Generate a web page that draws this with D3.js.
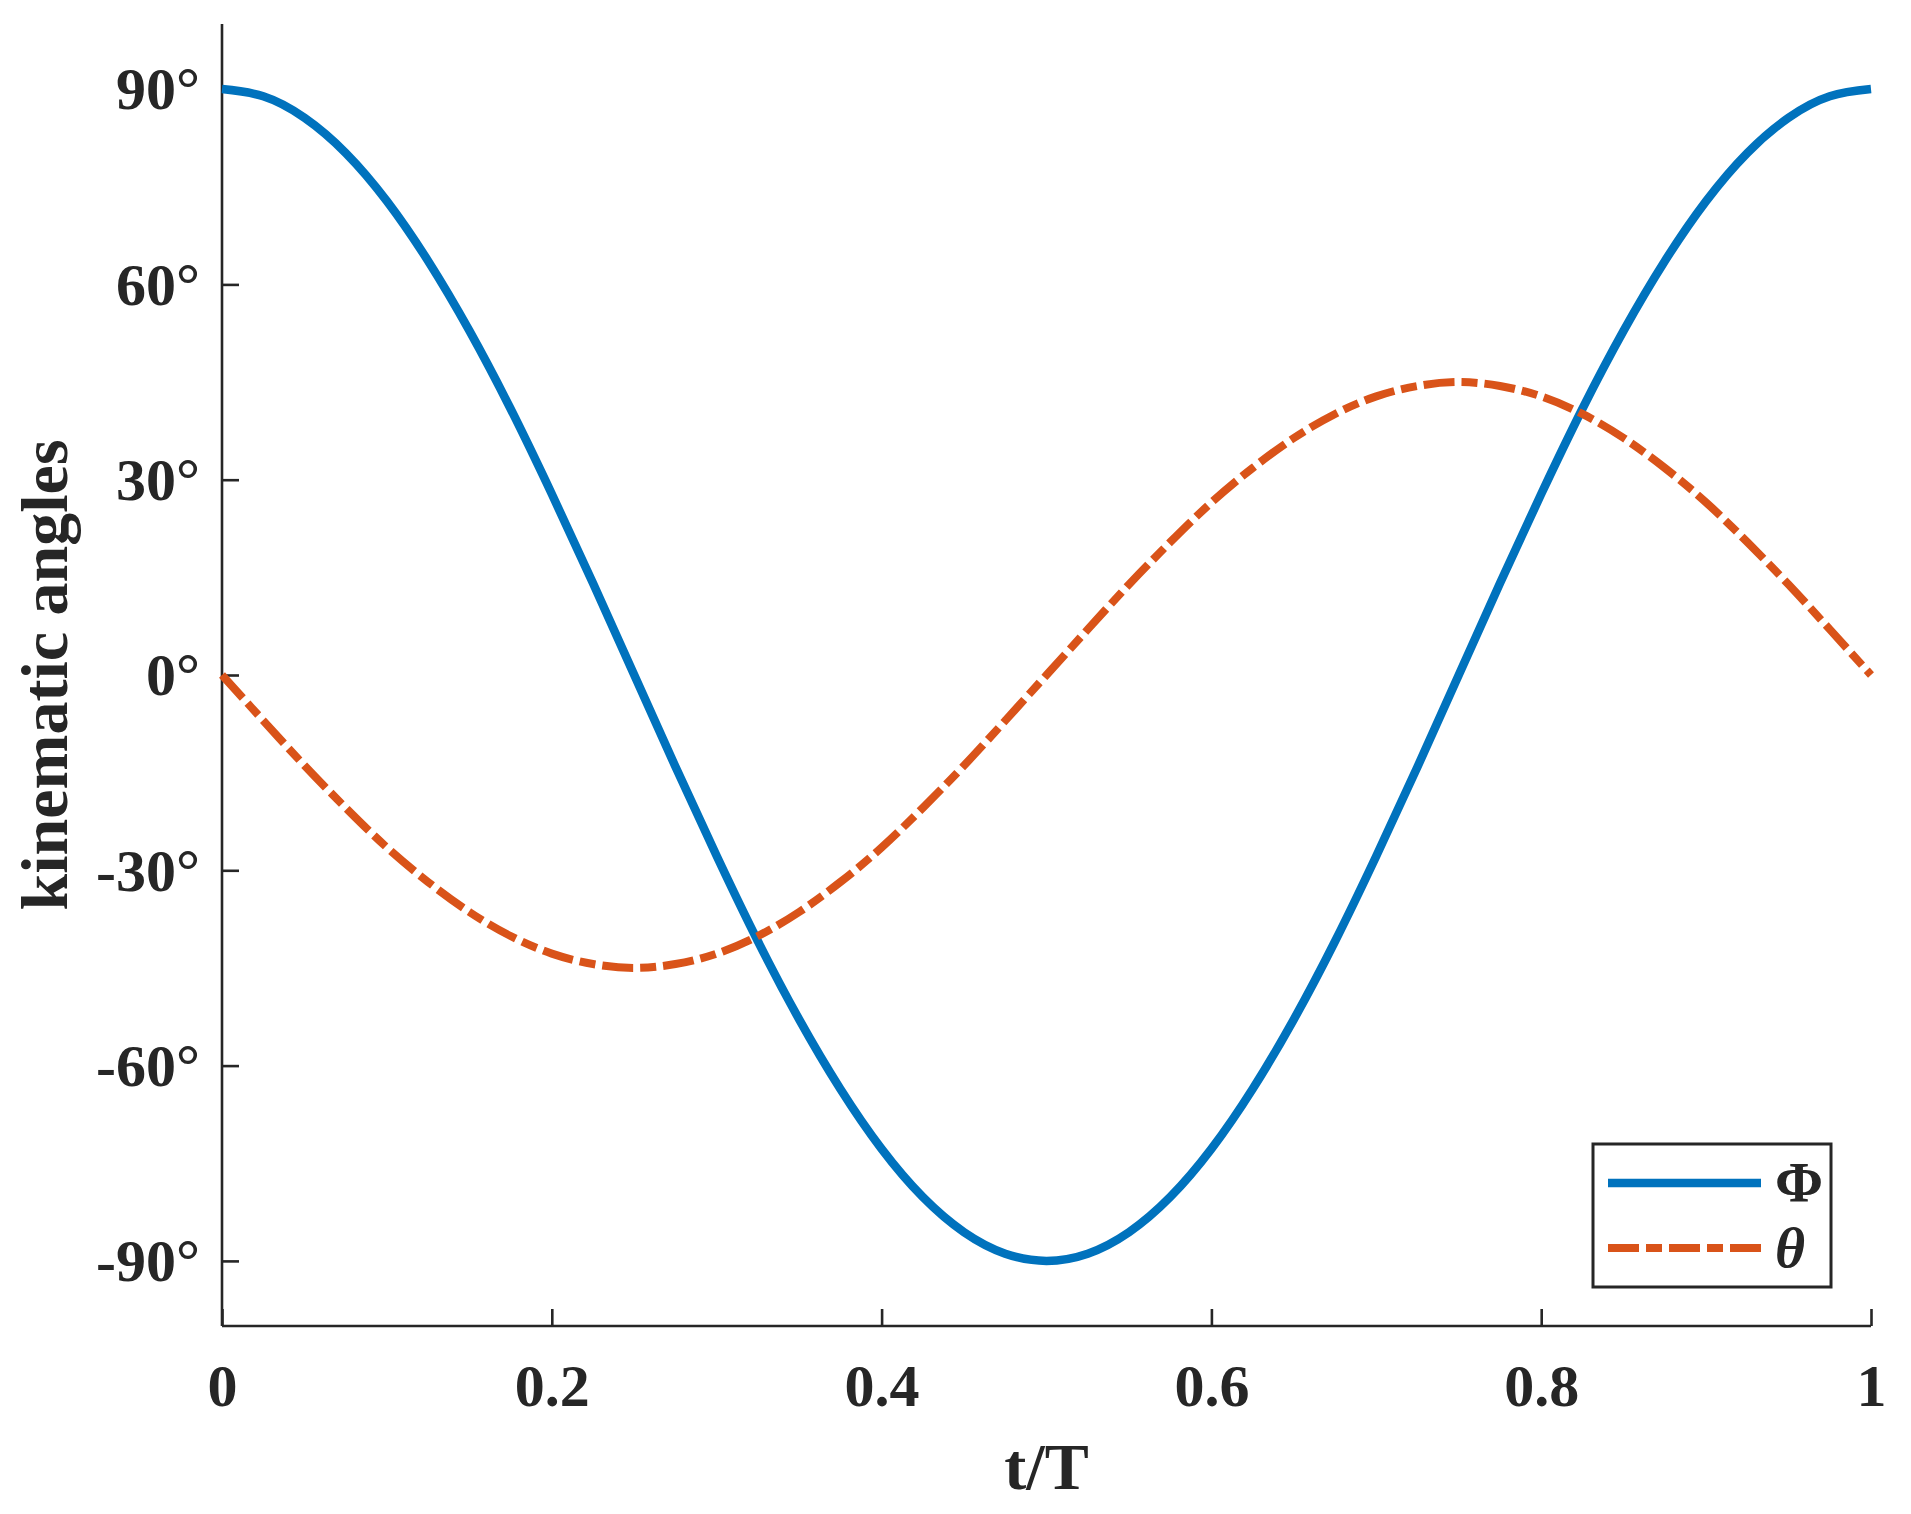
<html>
<head>
<style>
body { margin: 0; background: #fff; }
text { font-family: "Liberation Serif", "Times New Roman", serif; font-weight: bold; fill: #262626; }
.axis path, .axis line { stroke: #262626; stroke-width: 2.6; }
</style>
</head>
<body>
<div id="vis"></div>
<script src="https://cdn.jsdelivr.net/npm/d3@7"></script>
<script>
// values, t/T in steps of 0.025
var tValues = [0, 0.025, 0.05, 0.075, 0.1, 0.125, 0.15, 0.175, 0.2, 0.225,
               0.25, 0.275, 0.3, 0.325, 0.35, 0.375, 0.4, 0.425, 0.45, 0.475,
               0.5, 0.525, 0.55, 0.575, 0.6, 0.625, 0.65, 0.675, 0.7, 0.725,
               0.75, 0.775, 0.8, 0.825, 0.85, 0.875, 0.9, 0.925, 0.95, 0.975, 1];
var phiValues = [90, 88.9, 85.6, 80.2, 72.8, 63.6, 52.9, 40.9, 27.8, 14.1,
                 0, -14.1, -27.8, -40.9, -52.9, -63.6, -72.8, -80.2, -85.6, -88.9,
                 -90, -88.9, -85.6, -80.2, -72.8, -63.6, -52.9, -40.9, -27.8, -14.1,
                 0, 14.1, 27.8, 40.9, 52.9, 63.6, 72.8, 80.2, 85.6, 88.9, 90];
var thetaValues = [0, -7.0, -13.9, -20.4, -26.5, -31.8, -36.4, -40.1, -42.8, -44.4,
                   -45, -44.4, -42.8, -40.1, -36.4, -31.8, -26.5, -20.4, -13.9, -7.0,
                   0, 7.0, 13.9, 20.4, 26.5, 31.8, 36.4, 40.1, 42.8, 44.4,
                   45, 44.4, 42.8, 40.1, 36.4, 31.8, 26.5, 20.4, 13.9, 7.0, 0];
var xTicks = [0, 0.2, 0.4, 0.6, 0.8, 1];
var yTicks = [-90, -60, -30, 0, 30, 60, 90];
var seriesNames = ["\u03A6", "\u03B8"];

// set the dimensions and margins of the graph
var margin = {top: 24, right: 40, bottom: 188, left: 222},
    width = 1911 - margin.left - margin.right,
    height = 1514 - margin.top - margin.bottom;

var x = d3.scaleLinear().domain([0, 1]).range([0, width]);
var y = d3.scaleLinear().domain([-100, 100]).range([height, 0]);

var svg = d3.select("#vis").append("svg")
    .attr("width", 1911)
    .attr("height", 1514)
  .append("g")
    .attr("transform", "translate(" + margin.left + "," + margin.top + ")");

var phiData = tValues.map(function(t, i) { return {t: t, v: phiValues[i]}; });
var thetaData = tValues.map(function(t, i) { return {t: t, v: thetaValues[i]}; });

var line = d3.line()
    .x(function(d) { return x(d.t); })
    .y(function(d) { return y(d.v); })
    .curve(d3.curveNatural);

// x axis, ticks pointing inward
var xAxis = svg.append("g")
    .attr("class", "axis")
    .attr("transform", "translate(0," + height + ")")
    .call(d3.axisBottom(x).tickValues(xTicks).tickSizeInner(-17).tickSizeOuter(0)
      .tickFormat(function(d) { return d3.format("")(d); }));
xAxis.selectAll("text")
    .attr("y", 80)
    .attr("dy", 0)
    .style("font-size", "60px")
    .style("font-family", "Liberation Serif")
    .attr("fill", "#262626");

// y axis
var yAxis = svg.append("g")
    .attr("class", "axis")
    .call(d3.axisLeft(y).tickValues(yTicks).tickSizeInner(-17).tickSizeOuter(0)
      .tickFormat(function(d) { return (d < 0 ? "-" + Math.abs(d) : d) + "\u00B0"; }));
yAxis.selectAll("text")
    .attr("x", -22)
    .attr("dy", "0.33em")
    .style("font-size", "60px")
    .style("font-family", "Liberation Serif")
    .attr("fill", "#262626");
yAxis.select(".domain").attr("d", "M0," + height + "V0");
xAxis.select(".domain").attr("d", "M0,0H" + width);

// the two curves
svg.append("path")
    .datum(phiData)
    .attr("fill", "none")
    .attr("stroke", "#0072BD")
    .attr("stroke-width", 8.5)
    .attr("d", line);

svg.append("path")
    .datum(thetaData)
    .attr("fill", "none")
    .attr("stroke", "#D95319")
    .attr("stroke-width", 8)
    .attr("stroke-dasharray", "31,7,16,7")
    .attr("d", line);

// axis labels
svg.append("text")
    .attr("x", width / 2)
    .attr("y", height + 163)
    .attr("text-anchor", "middle")
    .style("font-size", "66px")
    .text("t/T");

svg.append("text")
    .attr("transform", "translate(" + (-155) + "," + (height / 2) + ") rotate(-90)")
    .attr("text-anchor", "middle")
    .style("font-size", "66px")
    .text("kinematic angles");

// legend
var legend = svg.append("g")
    .attr("transform", "translate(" + (1593 - margin.left) + "," + (1144 - margin.top) + ")");
legend.append("rect")
    .attr("width", 238)
    .attr("height", 143)
    .attr("fill", "#fff")
    .attr("stroke", "#262626")
    .attr("stroke-width", 3);

var legendItems = [
  {name: seriesNames[0], color: "#0072BD", dash: null, width: 8.5, italic: false, y: 39},
  {name: seriesNames[1], color: "#D95319", dash: "31,7,16,7", width: 8, italic: true, y: 104}
];
legendItems.forEach(function(d) {
  legend.append("line")
      .attr("x1", 15).attr("x2", 168)
      .attr("y1", d.y).attr("y2", d.y)
      .attr("stroke", d.color)
      .attr("stroke-width", d.width)
      .attr("stroke-dasharray", d.dash);
  legend.append("text")
      .attr("x", 182)
      .attr("y", d.y)
      .attr("dy", "0.33em")
      .style("font-size", "58px")
      .style("font-style", d.italic ? "italic" : "normal")
      .text(d.name);
});
</script>
</body>
</html>
